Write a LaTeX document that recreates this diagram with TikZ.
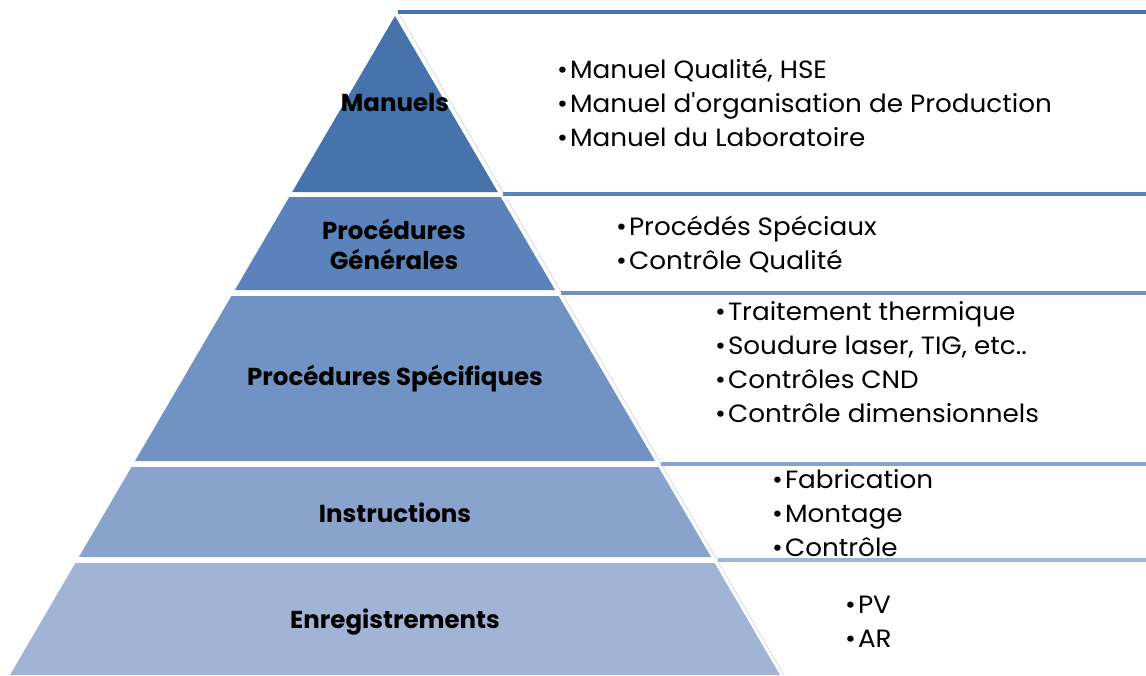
\documentclass[tikz,border=0pt]{standalone}
\usepackage{fontspec}
\setmainfont{Poppins}
\newfontfamily\listfont[FakeStretch=1.05]{Poppins}
\definecolor{cA}{HTML}{4673AB}
\definecolor{cB}{HTML}{5A83BB}
\definecolor{cC}{HTML}{7193C3}
\definecolor{cD}{HTML}{89A3CC}
\definecolor{cE}{HTML}{A1B4D6}
\definecolor{edgeline}{HTML}{C5D3E8}
\tikzset{
  layer/.style={draw=white, line width=0.8pt},
  toprule/.style={line width=3.2pt},
  lbl/.style={font=\fontsize{24.5}{30}\selectfont\bfseries, align=center, text=black, inner sep=0pt},
  items/.style={font=\listfont\fontsize{25}{34}\selectfont, align=left, anchor=west, text=black, inner sep=0pt},
}
\begin{document}
\begin{tikzpicture}[x=1pt,y=-1pt]
\useasboundingbox (0,0) rectangle (1146,675);
\fill[white] (0,0) rectangle (1146,675);
% thin edge line of the text boxes
\coordinate (e1) at (397,10);
\coordinate (e2) at (784,675);
\draw[edgeline, line width=0.6pt] (e1) -- (e2);
% top rules of the text boxes
\coordinate (r1a) at (398,12);   \coordinate (r1b) at (1146,12);
\coordinate (r2a) at (503,194);  \coordinate (r2b) at (1146,194);
\coordinate (r3a) at (561,293);  \coordinate (r3b) at (1146,293);
\coordinate (r4a) at (661,464);  \coordinate (r4b) at (1146,464);
\coordinate (r5a) at (718,560);  \coordinate (r5b) at (1146,560);
\draw[toprule, cA] (r1a) -- (r1b);
\draw[toprule, cB] (r2a) -- (r2b);
\draw[toprule, cC] (r3a) -- (r3b);
\draw[toprule, cD] (r4a) -- (r4b);
\draw[toprule, cE] (r5a) -- (r5b);
% pyramid layers
\fill[cA] (395,16) -- (497.8,192) -- (292.2,192) -- cycle;
\fill[cB] (289.3,197) -- (500.7,197) -- (555.1,290) -- (234.9,290) -- cycle;
\fill[cC] (231.4,296) -- (558.6,296) -- (655,461) -- (135,461) -- cycle;
\fill[cD] (131.5,467) -- (658.5,467) -- (711.1,557) -- (78.9,557) -- cycle;
\fill[cE] (75.4,563) -- (714.6,563) -- (780,675) -- (10,675) -- cycle;
% labels
\node[lbl] (l1) at (395,103) {Manuels};
\node[lbl] (l2) at (394,244) {Procédures\\Générales};
\node[lbl] (l3) at (395,379) {Procédures Spécifiques};
\node[lbl] (l4) at (395,513) {Instructions};
\node[lbl] (l5) at (395,622) {Enregistrements};
% lists
\node[items] (t1) at (557,103) {•\hspace{2pt}Manuel Qualité, HSE\\•\hspace{2pt}Manuel d'organisation de Production\\•\hspace{2pt}Manuel du Laboratoire};
\node[items] (t2) at (616,244) {•\hspace{2pt}Procédés Spéciaux\\•\hspace{2pt}Contrôle Qualité};
\node[items] (t3) at (715,362) {•\hspace{2pt}Traitement thermique\\•\hspace{2pt}Soudure laser, TIG, etc..\\•\hspace{2pt}Contrôles CND\\•\hspace{2pt}Contrôle dimensionnels};
\node[items] (t4) at (772,513) {•\hspace{2pt}Fabrication\\•\hspace{2pt}Montage\\•\hspace{2pt}Contrôle};
\node[items] (t5) at (845,622) {•\hspace{2pt}PV\\•\hspace{2pt}AR};
\end{tikzpicture}
\end{document}
